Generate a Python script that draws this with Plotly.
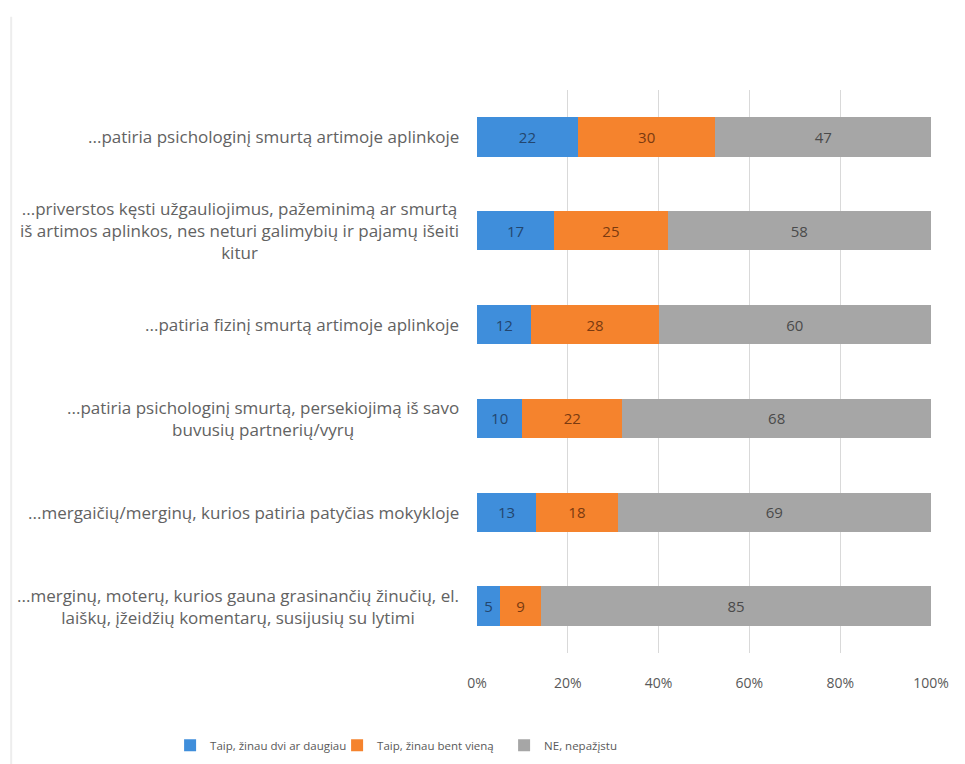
import plotly.graph_objects as go

# Kategorijos (iš viršaus į apačią)
categories = [
    "...patiria psichologinį smurtą artimoje aplinkoje",
    "...priverstos kęsti užgauliojimus, pažeminimą ar smurtą<br>iš artimos aplinkos, nes neturi galimybių ir pajamų išeiti<br>kitur",
    "...patiria fizinį smurtą artimoje aplinkoje",
    "...patiria psichologinį smurtą, persekiojimą iš savo<br>buvusių partnerių/vyrų",
    "...mergaičių/merginų, kurios patiria patyčias mokykloje",
    "...merginų, moterų, kurios gauna grasinančių žinučių, el.<br>laiškų, įžeidžių komentarų, susijusių su lytimi",
]
series_names = ["Taip, žinau dvi ar daugiau", "Taip, žinau bent vieną", "NE, nepažįstu"]
taip_dvi = [22, 17, 12, 10, 13, 5]
taip_viena = [30, 25, 28, 22, 18, 9]
ne = [47, 58, 60, 68, 69, 85]
tick_vals = [0, 20, 40, 60, 80, 100]

colors = ["#3F8EDB", "#F5832D", "#A6A6A6"]
text_colors = ["#23466E", "#7A3A10", "#4A4A4A"]
font = "Open Sans"

fig = go.Figure()
for name, vals, c, tc in zip(series_names, [taip_dvi, taip_viena, ne], colors, text_colors):
    fig.add_trace(
        go.Bar(
            y=categories,
            x=vals,
            name=name,
            orientation="h",
            marker=dict(color=c, line=dict(width=0)),
            text=vals,
            texttemplate="%{text}",
            textposition="inside",
            insidetextanchor="middle",
            textfont=dict(size=15, color=tc, family=font),
            constraintext="none",
        )
    )

# y ašies etiketės – centruotos kelių eilučių anotacijos
for cat in categories:
    fig.add_annotation(
        x=0, xref="paper", y=cat, yref="y",
        text=cat, showarrow=False,
        xanchor="right", align="center", xshift=-16,
        font=dict(size=17, color="#626262", family=font),
    )

# blankus rėmelis kairėje
fig.add_shape(type="line", xref="paper", yref="paper",
              x0=-1.026, x1=-1.026, y0=-0.2, y1=1.13,
              line=dict(color="#EDEDED", width=2))

fig.update_layout(
    barmode="stack",
    barnorm="percent",
    bargap=0.58,
    width=965,
    height=764,
    margin=dict(l=469, r=42, t=82, b=112),
    paper_bgcolor="white",
    plot_bgcolor="white",
    font=dict(family=font, color="#595959", size=13),
    xaxis=dict(
        range=[0, 100],
        tickvals=tick_vals,
        ticktext=[f"{v}%" for v in tick_vals],
        showgrid=True, gridcolor="#D9D9D9", gridwidth=1,
        zeroline=False, showline=False,
        tickfont=dict(size=14, color="#595959"),
        ticklabelstandoff=20,
    ),
    yaxis=dict(
        categoryorder="array", categoryarray=categories,
        autorange="reversed",
        showticklabels=False, showgrid=False, zeroline=False,
    ),
    legend=dict(
        orientation="h",
        x=-0.676, xanchor="left",
        y=-0.164, yanchor="middle",
        font=dict(size=11.5, color="#595959"),
        itemwidth=30,
        entrywidth=122,
        traceorder="normal",
    ),
    showlegend=True,
)

fig.write_html("out.html")
